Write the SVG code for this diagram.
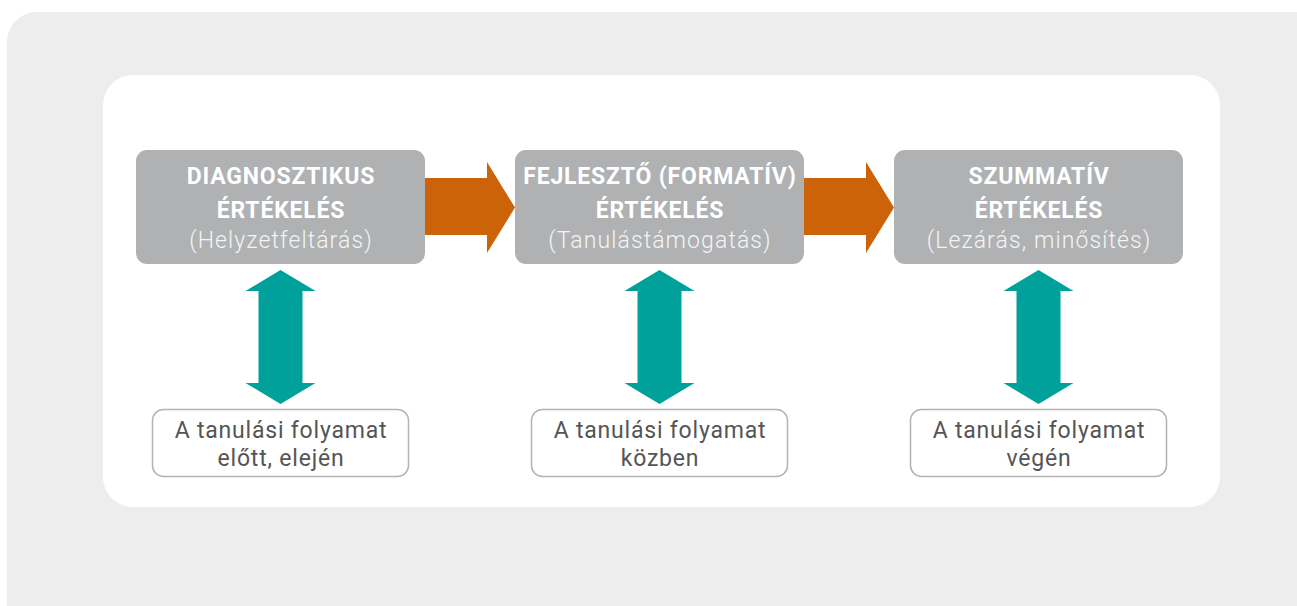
<svg xmlns="http://www.w3.org/2000/svg" width="1297" height="606" viewBox="0 0 1297 606">
<style>
.stage{fill:#b0b1b3}
.title{font-family:Roboto,"Liberation Sans",sans-serif;font-weight:700;font-size:23px;letter-spacing:0.8px;fill:#ffffff;text-anchor:middle}
.sub{font-family:Roboto,"Liberation Sans",sans-serif;font-weight:300;font-size:23px;letter-spacing:1.1px;fill:#f4f4f4;text-anchor:middle}
.when{fill:#ffffff;stroke:#b3b3b3;stroke-width:1.5}
.wt{font-family:Roboto,"Liberation Sans",sans-serif;font-weight:400;font-size:23px;letter-spacing:0.8px;fill:#555555;text-anchor:middle}
.flow{fill:#cc6309}
.link{fill:#00a19a}
</style>
<rect x="7" y="12" width="1320" height="640" rx="30" fill="#ecedec"/>
<rect x="103" y="75" width="1117" height="432" rx="30" fill="#ffffff"/>
<g id="connectors">
<path class="flow" d="M425 178 H487 V162 L515 207.5 L487 253 V235 H425 Z"/>
<path class="flow" d="M804 178 H866 V162 L894 207.5 L866 253 V235 H804 Z"/>
<path class="link" d="M280.5 270 L315.5 291 H302.5 V383 H315.5 L280.5 404 L245.5 383 H258.5 V291 H245.5 Z"/>
<path class="link" d="M659.5 270 L694.5 291 H681.5 V383 H694.5 L659.5 404 L624.5 383 H637.5 V291 H624.5 Z"/>
<path class="link" d="M1038.5 270 L1073.5 291 H1060.5 V383 H1073.5 L1038.5 404 L1003.5 383 H1016.5 V291 H1003.5 Z"/>
</g>
<g id="diagnostic">
<rect class="stage" x="136" y="150" width="289" height="114" rx="11"/>
<text class="title" x="281" y="184">DIAGNOSZTIKUS</text>
<text class="title" x="281" y="218">ÉRTÉKELÉS</text>
<text class="sub" x="281" y="248">(Helyzetfeltárás)</text>
</g>
<g id="formative">
<rect class="stage" x="515" y="150" width="289" height="114" rx="11"/>
<text class="title" x="660" y="184">FEJLESZTŐ (FORMATÍV)</text>
<text class="title" x="660" y="218">ÉRTÉKELÉS</text>
<text class="sub" x="660" y="248">(Tanulástámogatás)</text>
</g>
<g id="summative">
<rect class="stage" x="894" y="150" width="289" height="114" rx="11"/>
<text class="title" x="1039" y="184">SZUMMATÍV</text>
<text class="title" x="1039" y="218">ÉRTÉKELÉS</text>
<text class="sub" x="1039" y="248">(Lezárás, minősítés)</text>
</g>
<g id="when-before">
<rect class="when" x="152.5" y="409.5" width="256" height="67" rx="11"/>
<text class="wt" x="281" y="438">A tanulási folyamat</text>
<text class="wt" x="281" y="466">előtt, elején</text>
</g>
<g id="when-during">
<rect class="when" x="531.5" y="409.5" width="256" height="67" rx="11"/>
<text class="wt" x="660" y="438">A tanulási folyamat</text>
<text class="wt" x="660" y="466">közben</text>
</g>
<g id="when-end">
<rect class="when" x="910.5" y="409.5" width="256" height="67" rx="11"/>
<text class="wt" x="1039" y="438">A tanulási folyamat</text>
<text class="wt" x="1039" y="466">végén</text>
</g>
</svg>
